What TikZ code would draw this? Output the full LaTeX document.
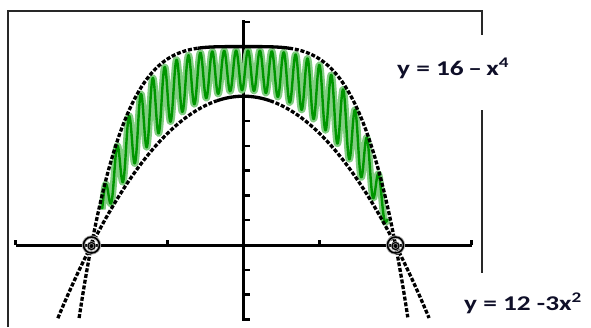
\documentclass[tikz,border=0pt]{standalone}
\usepackage{fontspec}
\setmainfont{Carlito}
\definecolor{framec}{RGB}{40,40,40}
\definecolor{darkgr}{RGB}{0,150,0}
\definecolor{lightgr}{RGB}{130,205,130}
\definecolor{labc}{RGB}{15,15,40}
\begin{document}
\begin{tikzpicture}[x=1pt,y=-1pt,
  declare function={X(\t)=243.5+76*\t; F(\t)=16-\t*\t*\t*\t; G(\t)=12-3*\t*\t; Y(\v)=245-12.4*\v;},
  axisline/.style={line width=3pt, black, line cap=rect},
  curvedash/.style={line width=3.3pt, black, dash pattern=on 4pt off 1.8pt},
  curvesolid/.style={line width=3.3pt, black},
  framel/.style={line width=1.8pt, framec},
  lab/.style={font=\bfseries\fontsize{21}{24}\selectfont, text=labc, inner sep=0pt},
  wavehalo/.style={line width=7pt, lightgr, line join=round},
  wavecore/.style={line width=2.4pt, darkgr, line join=round}]
\useasboundingbox (0,0) rectangle (591,327);
% frame
\draw[framel] (8,327) -- (8,11) -- (482,11) -- (482,35);
\draw[framel] (482,110) -- (482,273);
% axes
\draw[axisline] (17,245) -- (470,245);
\draw[axisline] (243.5,21.8) -- (243.5,319.4);
\foreach \t in {-3,-1,1,3} \draw[line width=2.4pt] ({X(\t)},245) -- ({X(\t)},240);
\foreach \k in {-3,...,9} \draw[line width=2.4pt] (243.5,{245-24.8*\k}) -- (249.5,{245-24.8*\k});
% green wave
\draw[wavehalo] plot[domain=-1.86:1.9, samples=900] ({X(\x)},{Y(G(\x)+(F(\x)-G(\x))*(0.52+0.4*sin(2297.9*(\x+1.86))))});
\draw[wavecore] plot[domain=-1.86:1.9, samples=900] ({X(\x)},{Y(G(\x)+(F(\x)-G(\x))*(0.52+0.4*sin(2297.9*(\x+1.86))))});
% curves
\draw[curvedash] plot[domain=-2.163:-0.6, samples=120] ({X(\x)},{Y(F(\x))});
\draw[curvesolid] plot[domain=-0.6:0.6, samples=40] ({X(\x)},{Y(F(\x))});
\draw[curvedash] plot[domain=0.6:2.163, samples=120] ({X(\x)},{Y(F(\x))});
\draw[curvedash] plot[domain=-2.443:-0.35, samples=120] ({X(\x)},{Y(G(\x))});
\draw[curvesolid] plot[domain=-0.35:0.35, samples=30] ({X(\x)},{Y(G(\x))});
\draw[curvedash] plot[domain=0.35:2.443, samples=120] ({X(\x)},{Y(G(\x))});
% intersection marks
\foreach \t in {-2,2} {
  \draw[gray!70, line width=3.2pt] ({X(\t)},245) circle (8);
  \draw[black, line width=1.5pt] ({X(\t)},245) circle (8);
  \draw[gray!70, line width=2.5pt] ({X(\t)},246) circle (3.5);
  \draw[black, line width=1.1pt] ({X(\t)},246) circle (3.5);
}
% labels
\node[lab, anchor=base west] (labf) at (397,75) {\scalebox{1.3}[1]{y = 16\,–\,x\textsuperscript{4}}};
\node[lab, anchor=base west] (labg) at (464,310) {\scalebox{1.3}[1]{y = 12 -3x\textsuperscript{2}}};
\end{tikzpicture}
\end{document}
